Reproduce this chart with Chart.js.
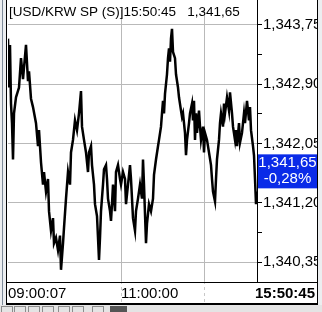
<!DOCTYPE html>
<html>
<head>
<meta charset="utf-8">
<script src="https://cdn.jsdelivr.net/npm/chart.js@4.4.0/dist/chart.umd.min.js"></script>
<style>
  html, body { margin: 0; padding: 0; background: #fff; }
  canvas { display: block; }
</style>
</head>
<body>
<canvas id="chart" width="322" height="312"></canvas>
<script>
// tick sequence number (x) and price (y)
const tickSeq = [
  0, 1, 2, 3, 4, 5, 6, 8, 11, 13, 15, 18, 20, 21, 23, 25, 28, 30, 31, 33, 35, 36, 38, 40, 41, 43, 45, 46, 48, 50, 52, 53, 55, 56, 58, 60,
  62, 63, 65, 67, 69, 71, 73, 74, 76, 78, 80, 81, 83, 84, 86, 87, 89, 90, 91, 92, 93, 95, 96, 98, 99, 100, 102, 103, 104, 105, 107, 108, 110, 112, 113, 115, 117, 118, 120, 122,
  123, 124, 125, 127, 128, 130, 132, 134, 135, 136, 138, 139, 141, 143, 145, 146, 148, 150, 151, 153, 154, 155, 156, 157, 159, 160, 161, 162, 163, 164, 165, 167, 168, 170, 171, 173, 174, 175, 177, 178, 179, 181, 182, 184, 185,
  186, 187, 188, 189, 191, 192, 193, 195, 196, 197, 199, 201, 203, 204, 205, 207, 208, 209, 211, 212, 213, 215, 216, 217, 219, 221, 222, 224, 225, 227, 228, 229, 231, 232, 234, 236, 237, 239, 241, 242, 243, 245, 246, 247, 248, 249
];
const prices = [
  1343.55, 1342.85, 1343.46, 1342.62, 1342.34, 1341.82, 1342.48, 1342.71, 1342.85, 1343.27, 1342.97, 1343.46, 1342.94, 1343.08, 1342.69, 1342.57, 1342.34, 1342.01, 1342.24, 1341.78, 1341.46, 1341.64, 1341.36, 1341.54, 1341.08, 1340.80, 1340.98, 1340.62, 1340.70, 1340.52, 1340.73, 1340.24, 1340.62, 1340.84, 1341.26, 1341.64,
  1341.46, 1341.92, 1342.10, 1342.38, 1342.24, 1342.48, 1342.80, 1342.29, 1342.10, 1341.92, 1341.64, 1341.92, 1342.01, 1341.74, 1341.46, 1341.18, 1341.01, 1340.70, 1340.38, 1340.70, 1341.08, 1341.46, 1341.68, 1341.74, 1341.54, 1341.26, 1341.08, 1340.94, 1341.18, 1341.46, 1341.08, 1341.64, 1341.74, 1341.54, 1341.46, 1341.64, 1341.54, 1341.18, 1341.46, 1341.74,
  1341.54, 1341.26, 1340.98, 1340.80, 1341.08, 1341.26, 1341.46, 1341.26, 1341.82, 1341.46, 1340.62, 1340.90, 1341.18, 1341.08, 1341.26, 1341.60, 1341.82, 1342.01, 1342.10, 1342.29, 1342.48, 1342.66, 1342.48, 1342.76, 1343.04, 1343.27, 1343.41, 1343.22, 1343.55, 1343.69, 1343.36, 1343.27, 1343.04, 1342.85, 1342.71, 1342.52, 1342.43, 1342.48, 1342.20, 1341.88, 1342.10, 1342.34, 1342.48, 1342.62, 1342.38,
  1342.66, 1342.10, 1342.48, 1342.20, 1342.52, 1342.29, 1342.10, 1342.29, 1341.92, 1342.20, 1342.10, 1341.92, 1341.74, 1341.54, 1341.36, 1341.22, 1341.54, 1341.82, 1342.10, 1342.34, 1342.48, 1342.29, 1342.62, 1342.48, 1342.71, 1342.52, 1342.78, 1342.48, 1342.29, 1342.10, 1342.24, 1342.01, 1342.34, 1342.06, 1342.20, 1342.48, 1342.34, 1342.66, 1342.38, 1342.57, 1342.24, 1342.01, 1341.88, 1341.54, 1341.18, 1341.36
];

const priceTicks = [1340.35, 1341.20, 1342.05, 1342.90, 1343.75];
const timeTickSeq = [0, 113, 196];
const timeLabels = ['09:00:07', '11:00:00', ''];
const lastTime = '15:50:45';
const lastPrice = '1,341,65';
const changePct = '-0,28%';
const titleText = '[USD/KRW SP (S)]15:50:45   1,341,65';

const FONT = '"Liberation Sans", Arial, sans-serif';

// 1343.75 -> "1,343,75" (comme sur l'écran d'origine)
function fmtPrice(v) {
  const parts = v.toFixed(2).split('.');
  return parts[0][0] + ',' + parts[0].slice(1) + ',' + parts[1];
}

function isMajor(v) {
  return priceTicks.some(p => Math.abs(p - v) < 0.001);
}

// petits traits intermédiaires entre les graduations principales
const minorTicks = [];
for (let i = 0; i < priceTicks.length - 1; i++) {
  minorTicks.push((priceTicks[i] + priceTicks[i + 1]) / 2);
}

const framePlugin = {
  id: 'frame',
  beforeDraw(chart) {
    const c = chart.ctx;
    c.save();
    c.fillStyle = '#fff';
    c.fillRect(0, 0, chart.width, chart.height);
    c.restore();
  },
  afterDraw(chart) {
    const c = chart.ctx;
    const area = chart.chartArea;
    const yScale = chart.scales.y;
    c.save();

    // titre en haut à gauche, coupé au bord du graphique
    c.save();
    c.beginPath();
    c.rect(area.left, 0, area.right - area.left, area.bottom);
    c.clip();
    c.fillStyle = '#000';
    c.font = '13.5px ' + FONT;
    c.textBaseline = 'middle';
    c.textAlign = 'left';
    c.fillText(titleText, 9, 12);
    c.restore();

    // boîte bleue du dernier prix
    const yLast = yScale.getPixelForValue(1341.65);
    c.fillStyle = '#0a2be8';
    c.fillRect(area.right + 1, yLast - 17, 317 - area.right - 1, 34);
    c.fillStyle = '#fff';
    c.font = '15px ' + FONT;
    c.textAlign = 'center';
    c.textBaseline = 'middle';
    const cx = (area.right + 318) / 2;
    c.fillText(lastPrice, cx, yLast - 8);
    c.fillText(changePct, cx, yLast + 8);

    // heure finale en gras
    c.fillStyle = '#000';
    c.font = 'bold 15px ' + FONT;
    c.textAlign = 'right';
    c.fillText(lastTime, 315, 294);

    // cadre
    c.strokeStyle = '#000';
    c.lineWidth = 1;
    c.beginPath();
    c.moveTo(6.5, 0); c.lineTo(6.5, 305);
    c.moveTo(317.5, 0); c.lineTo(317.5, 305);
    c.moveTo(area.right + 0.5, 0); c.lineTo(area.right + 0.5, area.bottom + 1);
    c.moveTo(6, area.bottom + 1.5); c.lineTo(318, area.bottom + 1.5);
    c.stroke();
    c.lineWidth = 2;
    c.beginPath();
    c.moveTo(6, 304); c.lineTo(318, 304);
    c.stroke();

    // bandes grises autour
    c.fillStyle = '#eceef0';
    c.fillRect(0, 0, 6, 305);
    c.fillRect(318, 0, 4, 305);
    c.fillStyle = '#7d8a99';
    c.fillRect(2, 0, 1, 305);
    c.fillStyle = '#e4e4e4';
    c.fillRect(0, 305, 322, 7);
    c.strokeStyle = '#8c8c8c';
    c.lineWidth = 1;
    [1, 14, 28, 42, 58, 72, 92].forEach(x => c.strokeRect(x + 0.5, 306.5, 11, 6));
    c.fillStyle = '#555';
    c.fillRect(110, 306, 17, 6);

    c.restore();
  }
};

const ctx = document.getElementById('chart').getContext('2d');
new Chart(ctx, {
  type: 'line',
  data: {
    datasets: [{
      data: tickSeq.map((t, i) => ({ x: t, y: prices[i] })),
      borderColor: '#000',
      borderWidth: 2.5,
      pointRadius: 0,
      tension: 0,
      fill: false
    }]
  },
  options: {
    responsive: false,
    animation: false,
    events: [],
    layout: { padding: { left: 8, top: 4, right: 5, bottom: 8 } },
    plugins: {
      legend: { display: false },
      tooltip: { enabled: false },
      title: { display: false }
    },
    scales: {
      x: {
        type: 'linear',
        min: 0,
        max: 249,
        afterBuildTicks: scale => {
          scale.ticks = timeTickSeq.map(v => ({ value: v }));
        },
        afterFit: scale => { scale.height = 23; },
        border: { display: false },
        grid: {
          color: c => (c.tick && c.tick.value === 0) ? 'transparent' : '#b9b9b9',
          borderDash: [3, 3],
          drawTicks: true,
          tickLength: 22,
          tickBorderDash: [3, 3],
          tickColor: c => (c.tick && c.tick.value === 0) ? 'transparent' : '#c8c8c8'
        },
        ticks: {
          autoSkip: false,
          maxRotation: 0,
          align: 'start',
          padding: -18,
          color: '#000',
          font: { family: FONT, size: 15 },
          callback: (value, index) => timeLabels[index]
        }
      },
      y: {
        position: 'right',
        min: 1340.08,
        max: 1343.96,
        afterBuildTicks: scale => {
          scale.ticks = priceTicks.concat(minorTicks).sort((a, b) => a - b).map(v => ({ value: v }));
        },
        afterFit: scale => { scale.width = 60; },
        border: { display: false },
        grid: {
          color: c => (c.tick && isMajor(c.tick.value)) ? '#b9b9b9' : 'transparent',
          borderDash: [3, 3],
          drawTicks: true,
          tickLength: 5,
          tickBorderDash: [],
          tickColor: '#000'
        },
        ticks: {
          padding: 1,
          color: '#000',
          font: { family: FONT, size: 15 },
          callback: value => isMajor(value) ? fmtPrice(value) : ''
        }
      }
    }
  },
  plugins: [framePlugin]
});
</script>
</body>
</html>
